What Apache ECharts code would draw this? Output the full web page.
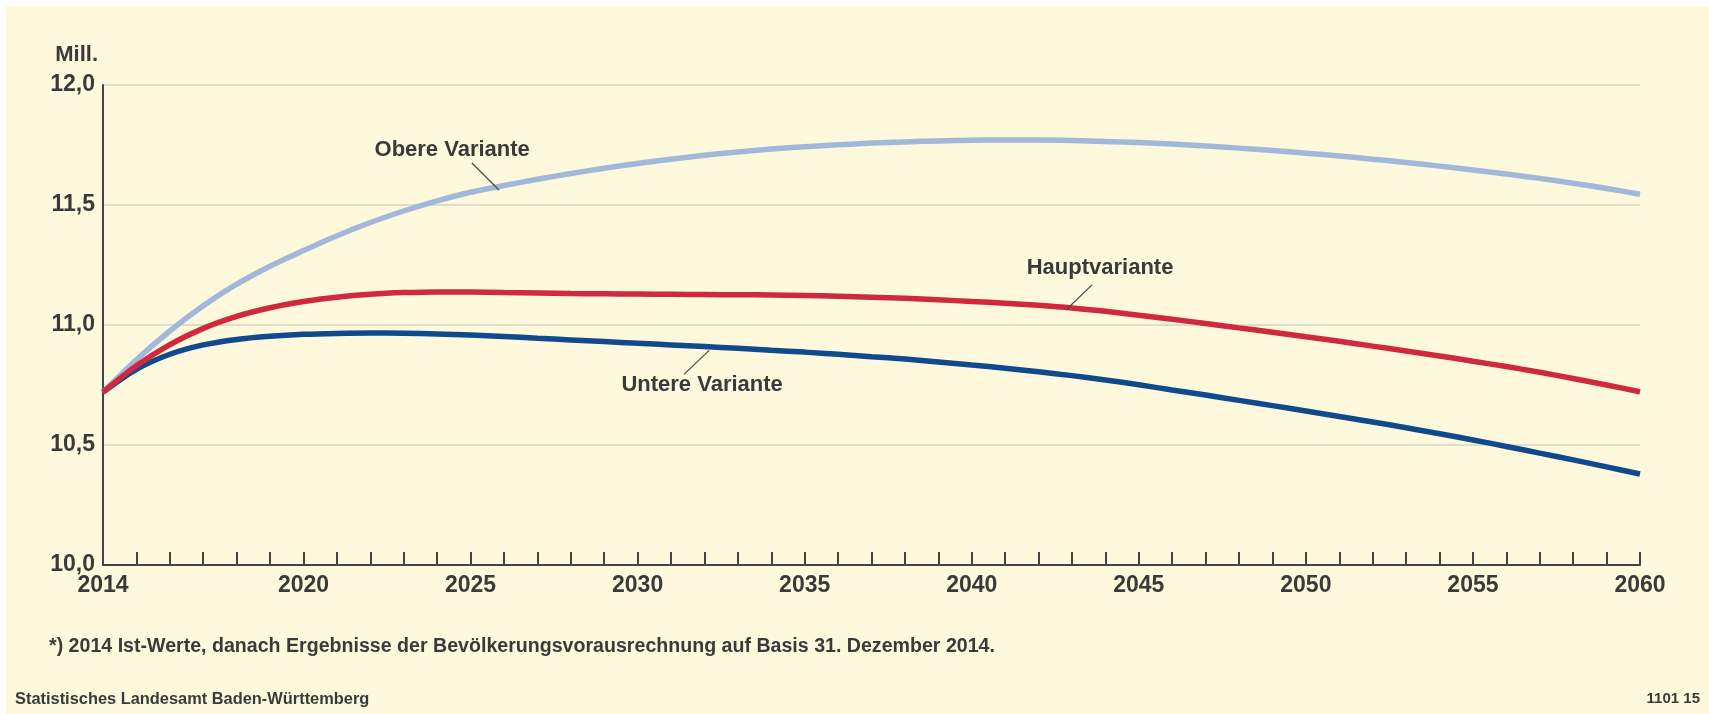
<!DOCTYPE html>
<html>
<head>
<meta charset="utf-8">
<script src="https://cdn.jsdelivr.net/npm/echarts@6/dist/echarts.min.js"></script>
<style>
  html, body { margin: 0; padding: 0; background: #ffffff; }
  #chart { position: absolute; left: 6px; top: 6px; width: 1703px; height: 708px; background: #fef8dc; }
</style>
</head>
<body>
<div id="chart"></div>
<script>
// Jahre 2014 bis 2060
const years = [];
for (let y = 2014; y <= 2060; y++) years.push(y);

// Bevölkerung in Mill.
const obereVariante = [
  10.72, 10.855, 10.975, 11.08, 11.17, 11.245, 11.31, 11.372, 11.427, 11.475,
  11.517, 11.553, 11.581, 11.607, 11.631, 11.653, 11.673, 11.691, 11.707, 11.721,
  11.733, 11.743, 11.751, 11.758, 11.763, 11.767, 11.77, 11.771, 11.771, 11.769,
  11.765, 11.76, 11.754, 11.746, 11.737, 11.727, 11.716, 11.704, 11.691, 11.677,
  11.662, 11.646, 11.629, 11.611, 11.591, 11.569, 11.545
];
const hauptvariante = [
  10.72, 10.83, 10.918, 10.986, 11.036, 11.072, 11.098, 11.116, 11.128, 11.135,
  11.138, 11.137, 11.135, 11.133, 11.131, 11.13, 11.129, 11.128, 11.127, 11.126,
  11.125, 11.123, 11.12, 11.116, 11.111, 11.105, 11.098, 11.091, 11.082, 11.071,
  11.057, 11.041, 11.024, 11.006, 10.988, 10.97, 10.951, 10.932, 10.912, 10.892,
  10.871, 10.849, 10.827, 10.803, 10.777, 10.75, 10.722
];
const untereVariante = [
  10.72, 10.815, 10.878, 10.917, 10.94, 10.953, 10.961, 10.965, 10.967, 10.966,
  10.963, 10.958, 10.952, 10.945, 10.938, 10.931, 10.924, 10.917, 10.91, 10.903,
  10.895, 10.887, 10.878, 10.868, 10.858, 10.846, 10.833, 10.82, 10.805, 10.789,
  10.771, 10.751, 10.729, 10.708, 10.686, 10.664, 10.642, 10.619, 10.596, 10.572,
  10.547, 10.521, 10.494, 10.466, 10.438, 10.409, 10.379
];

// Beschriftungen: [Jahr, Wert] für Text, Linienanfang, Linienende
const labelObere = { text: "Obere Variante", pos: [2024.45, 11.729], from: [2025.04, 11.675], to: [2025.85, 11.5625] };
const labelHaupt = { text: "Hauptvariante", pos: [2043.84, 11.2375], from: [2043.6, 11.167], to: [2042.82, 11.0625] };
const labelUntere = { text: "Untere Variante", pos: [2031.93, 10.75], from: [2031.39, 10.794], to: [2032.14, 10.894] };

const footnote = "*) 2014 Ist-Werte, danach Ergebnisse der Bevölkerungsvorausrechnung auf Basis 31. Dezember 2014.";
const source = "Statistisches Landesamt Baden-Württemberg";
const code = "1101 15";

const FONT = "'Liberation Sans', Arial, sans-serif";
const TEXT = "#3a3a3a";

const pairs = (vals) => years.map((y, i) => [y, vals[i]]);

const annot = (a) => ({
  markLine: {
    silent: true,
    symbol: "none",
    animation: false,
    lineStyle: { color: "#4a4a4a", width: 1.2, type: "solid" },
    label: { show: false },
    emphasis: { disabled: true },
    data: [[{ coord: a.from }, { coord: a.to }]],
  },
  markPoint: {
    silent: true,
    symbol: "circle",
    symbolSize: 0,
    animation: false,
    label: {
      show: true,
      position: "inside",
      formatter: a.text,
      color: TEXT,
      fontFamily: FONT,
      fontSize: 22,
      fontWeight: "bold",
    },
    data: [{ coord: a.pos }],
  },
});

const line = (name, vals, color, a) => Object.assign({
  name: name,
  type: "line",
  data: pairs(vals),
  smooth: 0.3,
  symbol: "none",
  animation: false,
  lineStyle: { color: color, width: 5.5 },
  emphasis: { disabled: true },
}, annot(a));

const chart = echarts.init(document.getElementById("chart"));

chart.setOption({
  backgroundColor: "#fef8dc",
  grid: { left: 97, right: 69, top: 79, bottom: 149, containLabel: false },
  xAxis: {
    type: "value",
    min: 2014,
    max: 2060,
    interval: 1,
    axisLine: { show: true, onZero: false, lineStyle: { color: "#444", width: 2 } },
    axisTick: { show: true, inside: true, length: 13, lineStyle: { color: "#444", width: 2 } },
    splitLine: { show: false },
    axisLabel: {
      show: true,
      showMinLabel: true,
      showMaxLabel: true,
      color: TEXT,
      fontFamily: FONT,
      fontSize: 23,
      fontWeight: "bold",
      margin: 9,
      formatter: (v) => (v === 2014 || (v >= 2020 && v % 5 === 0) ? String(v) : ""),
    },
  },
  yAxis: {
    type: "value",
    min: 10,
    max: 12,
    interval: 0.5,
    axisLine: { show: true, lineStyle: { color: "#444", width: 2 } },
    axisTick: { show: false },
    splitLine: { show: true, lineStyle: { color: "#d9d5c3", width: 1.5 } },
    axisLabel: {
      color: TEXT,
      fontFamily: FONT,
      fontSize: 23,
      fontWeight: "bold",
      margin: 8,
      formatter: (v) => v.toFixed(1).replace(".", ","),
    },
  },
  graphic: [
    { type: "text", right: 1703 - 92, top: 38, style: { text: "Mill.", fill: TEXT, font: "bold 22px " + FONT } },
    { type: "text", left: 43, top: 631, style: { text: footnote, fill: TEXT, font: "bold 19.6px " + FONT } },
    { type: "text", left: 9, top: 685, style: { text: source, fill: TEXT, font: "bold 16.4px " + FONT } },
    { type: "text", right: 9, top: 685, style: { text: code, fill: TEXT, font: "bold 15px " + FONT } },
  ],
  series: [
    line("Untere Variante", untereVariante, "#0f4a8c", labelUntere),
    line("Obere Variante", obereVariante, "#a2b8da", labelObere),
    line("Hauptvariante", hauptvariante, "#d0283d", labelHaupt),
  ],
});
</script>
</body>
</html>
